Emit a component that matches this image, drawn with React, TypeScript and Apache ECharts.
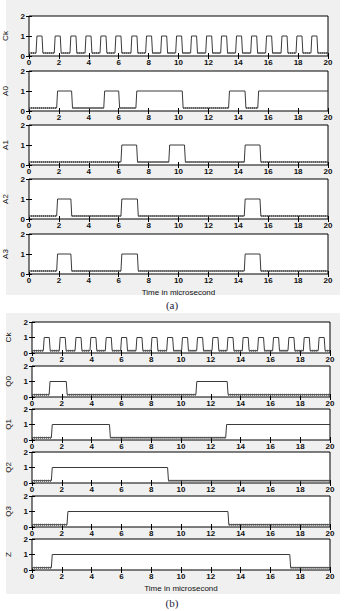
import React, { useEffect, useRef } from "react";
import * as echarts from "echarts";

// ---- axis ranges ----
const X_MIN = 0;
const X_MAX = 20;
const X_STEP = 2;
const Y_MIN = 0;
const Y_MAX = 2;
const Y_STEP = 1;

// ---- logic levels ----
const HIGH = 1;
const LOW = 0.15;
const RAMP = 0.06;

// ---- panel (a): high intervals [start, end] in microseconds ----
const ckA = [
  [0.47, 0.87], [1.69, 2.09], [2.74, 3.14], [3.75, 4.15], [4.75, 5.15],
  [5.75, 6.15], [6.82, 7.22], [7.8, 8.2], [8.81, 9.21], [9.81, 10.21],
  [10.81, 11.21], [11.82, 12.22], [12.82, 13.22], [13.82, 14.22], [14.83, 15.23],
  [15.83, 16.23], [16.86, 17.26], [17.86, 18.26], [18.86, 19.26],
];
const a0 = [[1.85, 2.85], [5.0, 6.0], [7.15, 10.25], [13.35, 14.45], [15.3, 20]];
const a1 = [[6.15, 7.2], [9.35, 10.4], [14.4, 15.45]];
const a2 = [[1.85, 2.8], [6.15, 7.25], [14.4, 15.45]];
const a3 = [[1.85, 2.8], [6.15, 7.25], [14.4, 15.45]];
const panelALabels = ["Ck", "A0", "A1", "A2", "A3"];

// ---- panel (b) ----
const ckB = [
  [0.76, 1.16], [1.83, 2.23], [2.89, 3.29], [3.89, 4.29], [4.92, 5.32],
  [5.95, 6.35], [6.98, 7.38], [7.99, 8.39], [9.04, 9.44], [10.04, 10.44],
  [11.05, 11.45], [12.08, 12.48], [13.09, 13.49], [14.11, 14.51], [15.14, 15.54],
  [16.15, 16.55], [17.18, 17.58], [18.21, 18.61], [19.21, 19.61],
];
const q0 = [[1.15, 2.3], [11.0, 13.1]];
const q1 = [[1.3, 5.2], [13.0, 20]];
const q2 = [[1.3, 9.1]];
const q3 = [[2.35, 13.15]];
const zSig = [[1.3, 17.3]];
const panelBLabels = ["Ck", "Q0", "Q1", "Q2", "Q3", "Z"];

const xAxisTitle = "Time in microsecond";
const panelTitles = ["(a)", "(b)"];

function buildWave(highs: number[][]) {
  const pts: (number[] | null)[] = [[X_MIN, LOW]];
  for (const [s, e] of highs) {
    pts.push([s, LOW]);
    pts.push([s + RAMP, HIGH]);
    if (e >= X_MAX) {
      pts.push([X_MAX, HIGH]);
      return pts;
    }
    pts.push([e, HIGH]);
    pts.push([e + RAMP, LOW]);
  }
  pts.push([X_MAX, LOW]);
  return pts;
}

function buildLow(highs: number[][]) {
  const pts: (number[] | null)[] = [];
  let cur = X_MIN;
  for (const [s, e] of highs) {
    if (s > cur) {
      pts.push([cur, LOW]);
      pts.push([s, LOW]);
      pts.push(null);
    }
    cur = e + RAMP;
  }
  if (cur < X_MAX) {
    pts.push([cur, LOW]);
    pts.push([X_MAX, LOW]);
  }
  return pts;
}

const FONT = "Liberation Sans, Arial, sans-serif";

export default function App() {
  const ref = useRef<HTMLDivElement>(null);
  useEffect(() => {
    if (!ref.current) return;
    const chart = echarts.init(ref.current, null, { renderer: "svg" });

    const plots = [
      { sig: ckA, name: panelALabels[0], top: 16, h: 40, left: 29, right: 17, last: false },
      { sig: a0, name: panelALabels[1], top: 71, h: 40, left: 29, right: 17, last: false },
      { sig: a1, name: panelALabels[2], top: 125, h: 40, left: 29, right: 17, last: false },
      { sig: a2, name: panelALabels[3], top: 179, h: 40, left: 29, right: 17, last: false },
      { sig: a3, name: panelALabels[4], top: 234, h: 40, left: 29, right: 17, last: true },
      { sig: ckB, name: panelBLabels[0], top: 322, h: 31, left: 32, right: 15, last: false },
      { sig: q0, name: panelBLabels[1], top: 366, h: 31, left: 32, right: 15, last: false },
      { sig: q1, name: panelBLabels[2], top: 409, h: 31, left: 32, right: 15, last: false },
      { sig: q2, name: panelBLabels[3], top: 452, h: 31, left: 32, right: 15, last: false },
      { sig: q3, name: panelBLabels[4], top: 496, h: 31, left: 32, right: 15, last: false },
      { sig: zSig, name: panelBLabels[5], top: 539, h: 31, left: 32, right: 15, last: true },
    ];

    const grid: any[] = [];
    const xAxis: any[] = [];
    const yAxis: any[] = [];
    const series: any[] = [];
    const labelStyle = { fontSize: 8, fontFamily: FONT, color: "#111", fontWeight: "bold" };

    plots.forEach((p, i) => {
      grid.push({
        left: p.left, right: p.right, top: p.top, height: p.h,
        show: true, backgroundColor: "#fff", borderColor: "#000", borderWidth: 1,
        containLabel: false, outerBoundsMode: "none",
      });
      const xBase = {
        type: "value", gridIndex: i, min: X_MIN, max: X_MAX, interval: X_STEP,
        splitLine: { show: false }, axisLine: { show: false },
        axisTick: { show: true, inside: true, length: 3, lineStyle: { color: "#000" } },
      };
      xAxis.push({
        ...xBase, position: "bottom",
        axisLabel: { ...labelStyle, margin: 2, showMinLabel: true, showMaxLabel: true, hideOverlap: false },
        name: p.last ? xAxisTitle : "", nameLocation: "middle", nameGap: 14,
        nameTextStyle: { fontSize: 8, fontFamily: FONT, color: "#111" },
      });
      xAxis.push({ ...xBase, position: "top", axisLabel: { show: false } });
      const yBase = {
        type: "value", gridIndex: i, min: Y_MIN, max: Y_MAX, interval: Y_STEP,
        splitLine: { show: false }, axisLine: { show: false },
        axisTick: { show: true, inside: true, length: 3, lineStyle: { color: "#000" } },
      };
      yAxis.push({
        ...yBase, position: "left",
        axisLabel: { ...labelStyle, margin: 4, showMinLabel: true, showMaxLabel: true },
        name: p.name, nameLocation: "middle", nameRotate: 90, nameGap: 15,
        nameTextStyle: { fontSize: 8, fontFamily: FONT, color: "#111" },
      });
      yAxis.push({ ...yBase, position: "right", axisLabel: { show: false } });

      series.push({
        type: "line", xAxisIndex: 2 * i, yAxisIndex: 2 * i,
        data: buildWave(p.sig), symbol: "none", silent: true,
        lineStyle: { color: "#3a3a3a", width: 1 },
      });
      series.push({
        type: "line", xAxisIndex: 2 * i, yAxisIndex: 2 * i,
        data: buildLow(p.sig), symbol: "none", silent: true, connectNulls: false,
        lineStyle: { color: "#555", width: 2, type: [1, 1] },
      });
    });

    chart.setOption({
      animation: false,
      backgroundColor: "#fff",
      grid, xAxis, yAxis, series,
      graphic: [
        { type: "rect", z: -10, shape: { x: 6, y: 0, width: 334, height: 295 }, style: { fill: "#f0f0f0" } },
        { type: "rect", z: -10, shape: { x: 6, y: 313, width: 334, height: 281 }, style: { fill: "#f0f0f0" } },
        { type: "text", x: 172, y: 305, style: { text: panelTitles[0], font: "11px 'Liberation Serif', serif", fill: "#1c1c3c", align: "center", verticalAlign: "middle" } },
        { type: "text", x: 172, y: 603, style: { text: panelTitles[1], font: "11px 'Liberation Serif', serif", fill: "#1c1c3c", align: "center", verticalAlign: "middle" } },
      ],
    });
    return () => chart.dispose();
  }, []);
  return (
    <div
      ref={ref}
      style={{ position: "absolute", left: 0, top: 0, width: 345, height: 611 }}
    />
  );
}
